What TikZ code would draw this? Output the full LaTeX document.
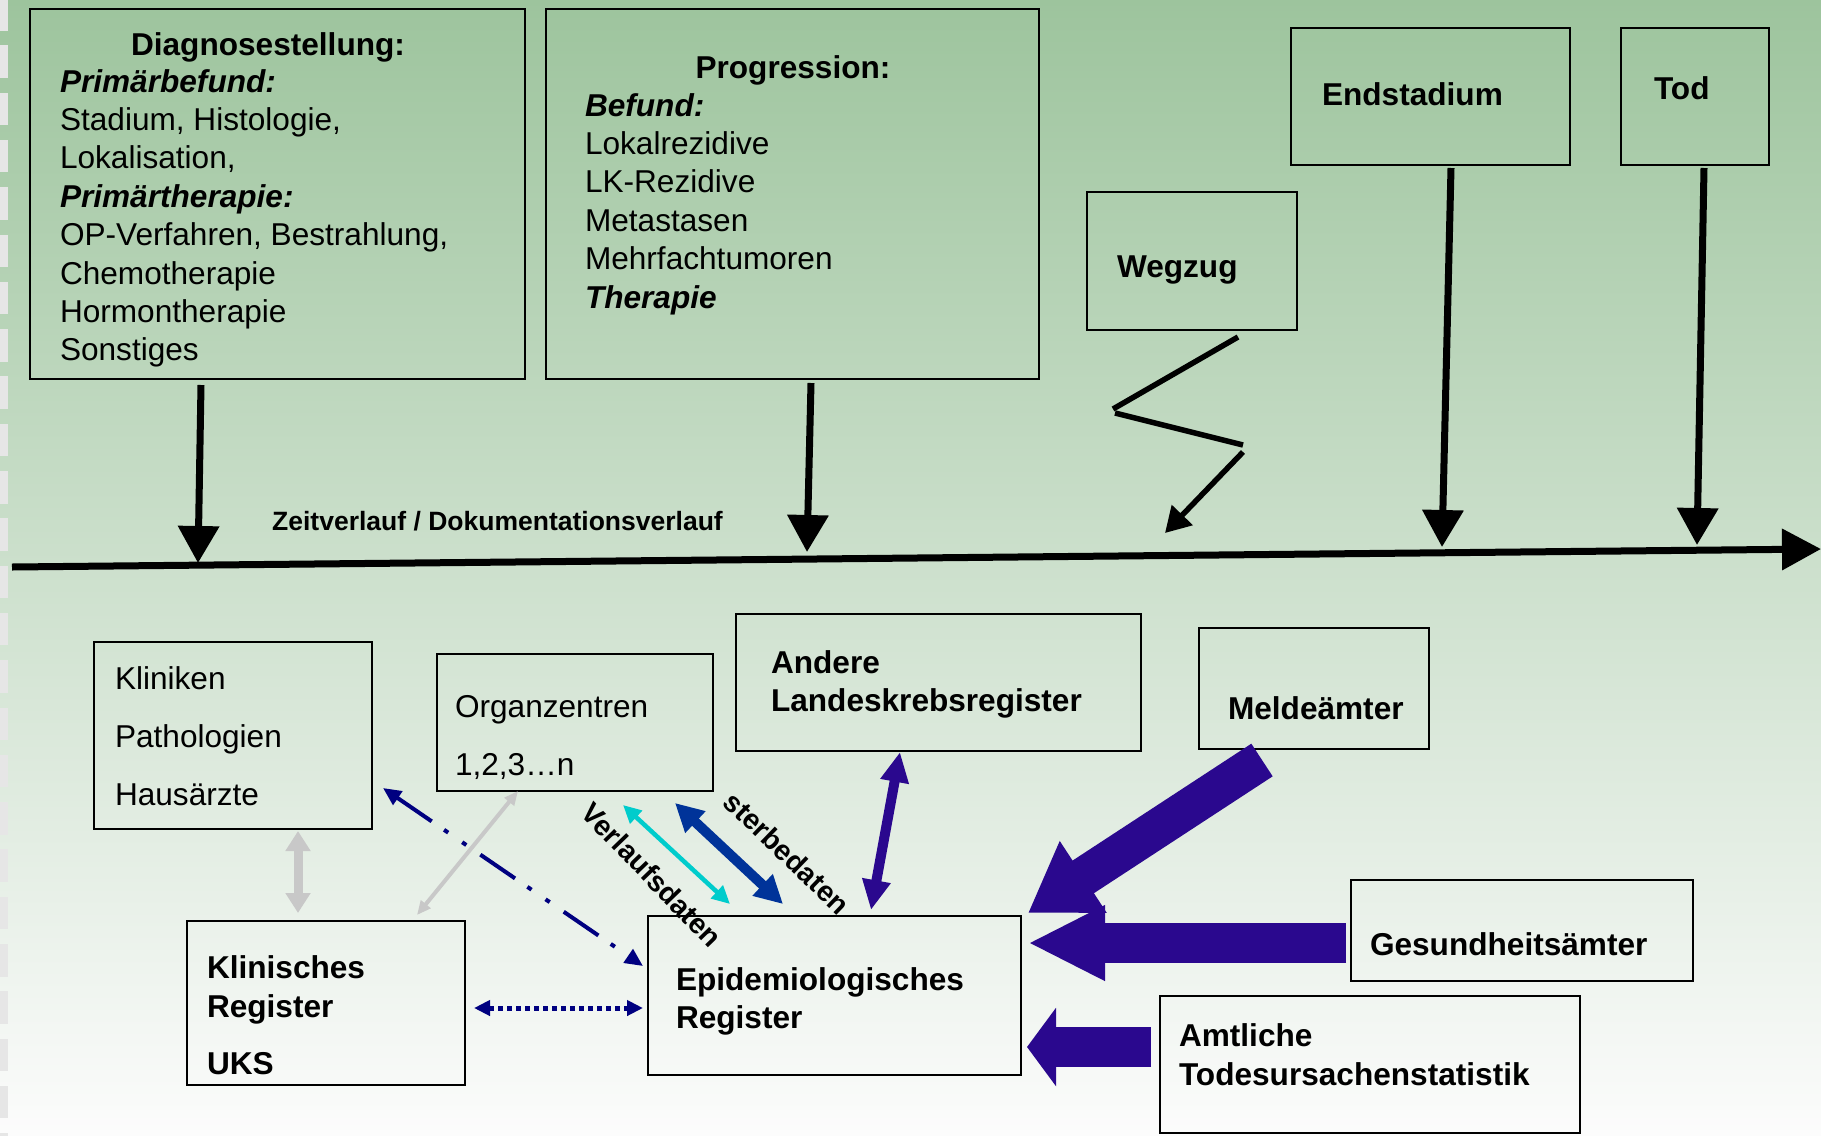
\documentclass[tikz,border=0pt]{standalone}
\usepackage{fontspec}
\setmainfont{Liberation Sans}
\usetikzlibrary{arrows.meta}
\definecolor{gtop}{RGB}{157,196,157}
\definecolor{gmid}{RGB}{211,228,211}
\definecolor{gbot}{RGB}{252,252,252}
\definecolor{stripec}{RGB}{230,230,230}
\definecolor{navyc}{RGB}{0,0,128}
\definecolor{cyanc}{RGB}{0,204,204}
\definecolor{sterbc}{RGB}{0,51,153}
\definecolor{indigoc}{RGB}{42,8,142}
\definecolor{greyc}{RGB}{200,200,200}
\newcommand\fsN{\fontsize{31.6bp}{38.4bp}\selectfont}
\newcommand\fsW{\fontsize{31.6bp}{58bp}\selectfont}
\newcommand\fsS{\fontsize{26.5bp}{30bp}\selectfont}
\newcommand\fsR{\fontsize{28.5bp}{30bp}\selectfont}
\begin{document}
\begin{tikzpicture}[x=1bp,y=-1bp,
  box/.style={draw=black, line width=2.5bp, inner sep=0, outer sep=0, anchor=north west},
  lbox/.style={box, line width=2bp},
  txt/.style={inner sep=0, outer sep=0, anchor=base west, font=\fsN},
  btxt/.style={txt, font=\fsN\bfseries},
  blackarr/.style={line width=7bp, -{Triangle[length=37bp,width=40bp]}},
  thinarr/.style={line width=5.5bp},
  fatarr/.style={indigoc, line width=40bp},
  lbl/.style={inner sep=0, font=\fsS\bfseries},
  rlbl/.style={inner sep=0, font=\fsR\bfseries}
]
\useasboundingbox (0,0) rectangle (1821,1135);
% background
\shade[top color=gtop, middle color=gmid, bottom color=gbot] (0,0) rectangle (1821,1135);
\foreach \i in {0,...,24}{
  \fill[stripec] (0,{-2+47.3*\i}) rectangle (8,{30.5+47.3*\i});
}
% ---------- top boxes ----------
\node[box, minimum width=495bp, minimum height=370bp] (diag) at (30,9) {};
\node[btxt, anchor=base] (diagT) at (268,55) {Diagnosestellung:};
\node[txt] (diagB) at (60,92) {\vtop{\hbox{\textbf{\textit{Primärbefund:}}}\hbox{Stadium, Histologie,}\hbox{Lokalisation,}\hbox{\textbf{\textit{Primärtherapie:}}}\hbox{OP-Verfahren, Bestrahlung,}\hbox{Chemotherapie}\hbox{Hormontherapie}\hbox{Sonstiges}}};

\node[box, minimum width=493bp, minimum height=370bp] (prog) at (546,9) {};
\node[btxt, anchor=base] (progT) at (793,78) {Progression:};
\node[txt] (progB) at (585,116) {\vtop{\hbox{\textbf{\textit{Befund:}}}\hbox{Lokalrezidive}\hbox{LK-Rezidive}\hbox{Metastasen}\hbox{Mehrfachtumoren}\hbox{\textbf{\textit{Therapie}}}}};

\node[box, minimum width=210bp, minimum height=138bp] (weg) at (1087,192) {};
\node[btxt] (wegT) at (1117,277) {Wegzug};
\node[box, minimum width=279bp, minimum height=137bp] (end) at (1291,28) {};
\node[btxt] (endT) at (1322,105) {Endstadium};
\node[box, minimum width=148bp, minimum height=137bp] (tod) at (1621,28) {};
\node[btxt] (todT) at (1654,99) {Tod};

% ---------- timeline ----------
\coordinate (tl0) at (12,567);
\coordinate (tl1) at (1821,549);
\draw[line width=7bp, -{Triangle[length=39bp,width=40bp]}] (tl0) -- (tl1);
\node[lbl, anchor=base west] (zeit) at (272,530) {Zeitverlauf / Dokumentationsverlauf};

\coordinate (a1) at (201,385); \coordinate (a2) at (198,563);
\coordinate (b1) at (811,383); \coordinate (b2) at (807,552);
\coordinate (c1) at (1451,168); \coordinate (c2) at (1442,547);
\coordinate (d1) at (1704,168); \coordinate (d2) at (1697,545);
\draw[blackarr] (a1) -- (a2);
\draw[blackarr] (b1) -- (b2);
\draw[blackarr] (c1) -- (c2);
\draw[blackarr] (d1) -- (d2);

% zigzag from Wegzug
\coordinate (z1) at (1238,337); \coordinate (z2) at (1113,409);
\coordinate (z3) at (1115,413); \coordinate (z4) at (1243,445);
\coordinate (z5) at (1243,452); \coordinate (z6) at (1165,533);
\draw[thinarr] (z1) -- (z2);
\draw[thinarr] (z3) -- (z4);
\draw[thinarr, -{Triangle[length=25bp,width=28bp]}] (z5) -- (z6);

% ---------- lower boxes ----------
\node[lbox, minimum width=278bp, minimum height=187bp] (klin) at (94,642) {};
\node[txt, font=\fsW] (klinT) at (115,689) {\vtop{\hbox{Kliniken}\hbox{Pathologien}\hbox{Hausärzte}}};
\node[lbox, minimum width=276bp, minimum height=137bp] (org) at (437,654) {};
\node[txt, font=\fsW] (orgT) at (455,717) {\vtop{\hbox{Organzentren}\hbox{1,2,3…n}}};
\node[lbox, minimum width=405bp, minimum height=137bp] (andere) at (736,614) {};
\node[btxt] (andereT) at (771,673) {\vtop{\hbox{Andere}\hbox{Landeskrebsregister}}};
\node[lbox, minimum width=230bp, minimum height=121bp] (melde) at (1199,628) {};
\node[btxt] (meldeT) at (1228,719) {Meldeämter};
\node[lbox, minimum width=278bp, minimum height=164bp] (kreg) at (187,921) {};
\node[btxt, font=\fontsize{31.6bp}{39bp}\selectfont\bfseries] (kregT) at (207,978) {\vtop{\hbox{Klinisches}\hbox{Register}\vskip18bp\hbox{UKS}}};
\node[lbox, minimum width=373bp, minimum height=159bp] (epi) at (648,916) {};
\node[btxt] (epiT) at (676,990) {\vtop{\hbox{Epidemiologisches}\hbox{Register}}};
\node[lbox, minimum width=342bp, minimum height=101bp] (ges) at (1351,880) {};
\node[btxt] (gesT) at (1370,955) {Gesundheitsämter};
\node[lbox, minimum width=420bp, minimum height=137bp] (amt) at (1160,996) {};
\node[btxt, font=\fontsize{31.6bp}{39bp}\selectfont\bfseries] (amtT) at (1179,1046) {\vtop{\hbox{Amtliche}\hbox{Todesursachenstatistik}}};

% ---------- lower connectors ----------
\coordinate (g1) at (298,831); \coordinate (g2) at (298,913);
\draw[greyc, line width=9bp, {Triangle[length=20bp,width=24bp]}-{Triangle[length=20bp,width=24bp]}] (g1) -- (g2);
\coordinate (h1) at (518,791); \coordinate (h2) at (417,915);
\draw[greyc, line width=4bp, {Triangle[length=14bp,width=12bp]}-{Triangle[length=14bp,width=12bp]}] (h1) -- (h2);
\coordinate (n1) at (383,788); \coordinate (n2) at (643,966);
\draw[navyc, line width=4bp, dash pattern=on 42bp off 15bp on 5bp off 17bp on 5bp off 17bp, {Triangle[length=18bp,width=16bp]}-{Triangle[length=18bp,width=16bp]}] (n1) -- (n2);
\coordinate (p1) at (474,1008); \coordinate (p2) at (643,1008);
\draw[navyc, line width=5bp, dash pattern=on 5bp off 4bp, {Triangle[length=16bp,width=15bp]}-{Triangle[length=16bp,width=15bp]}] (p1) -- (p2);
\coordinate (v1) at (623,805); \coordinate (v2) at (730,904);
\draw[cyanc, line width=4.5bp, {Triangle[length=18bp,width=17bp]}-{Triangle[length=18bp,width=17bp]}] (v1) -- (v2);
\coordinate (s1) at (675,803); \coordinate (s2) at (783,904);
\draw[sterbc, line width=10bp, {Triangle[length=28bp,width=28bp]}-{Triangle[length=28bp,width=28bp]}] (s1) -- (s2);
\coordinate (i1) at (900,752); \coordinate (i2) at (871,910);
\draw[indigoc, line width=10bp, {Triangle[length=30bp,width=27bp]}-{Triangle[length=30bp,width=27bp]}] (i1) -- (i2);
\node[rlbl, rotate=-46] (verl) at (652,875) {Verlaufsdaten};
\node[rlbl, rotate=-44] (sterb) at (787,853) {sterbedaten};

% fat arrows
\coordinate (m1) at (1262,760); \coordinate (m2) at (1028,913);
\draw[fatarr, line width=39bp, -{Triangle[length=66bp,width=81bp]}] (m1) -- (m2);
\coordinate (q1) at (1346,943); \coordinate (q2) at (1028,943);
\draw[fatarr, -{Triangle[length=77bp,width=70bp]}] (q1) -- (q2);
\coordinate (r1) at (1151,1047); \coordinate (r2) at (1027,1047);
\draw[fatarr, -{Triangle[length=29bp,width=77bp]}] (r1) -- (r2);
\end{tikzpicture}
\end{document}
